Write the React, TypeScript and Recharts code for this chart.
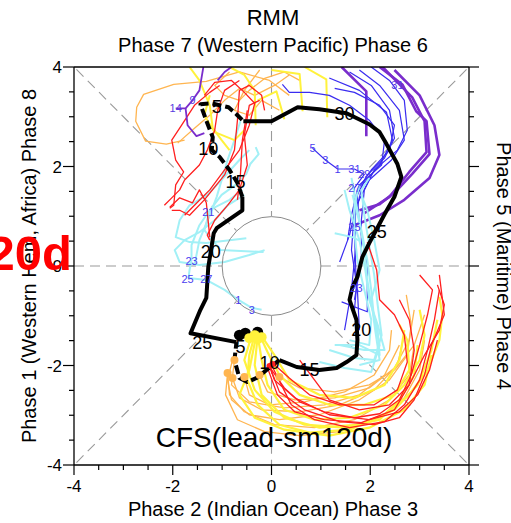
import React from "react";
import {
  ComposedChart,
  Line,
  Scatter,
  XAxis,
  YAxis,
  ReferenceLine,
  ReferenceDot,
} from "recharts";

type Pt = [number, number];

const FONT = "'Liberation Sans', Arial, Helvetica, sans-serif";

// axis ticks (major every 2, minor every 0.5)
const tickVals = [-4, -3.5, -3, -2.5, -2, -1.5, -1, -0.5, 0, 0.5, 1, 1.5, 2, 2.5, 3, 3.5, 4];

// observed RMM track (black)
const obsDashTop: Pt[] = [[-0.59, 1.39], [-0.69, 1.67], [-0.85, 1.93], [-1.05, 2.19], [-1.21, 2.33], [-1.19, 2.59], [-1.3, 2.87], [-1.44, 3.25], [-1.21, 3.27], [-0.87, 3.19], [-0.71, 3.05], [-0.57, 2.91]];
const obsMain: Pt[] = [[-0.57, 2.91], [0, 2.91], [0.53, 3.19], [0.97, 3.15], [1.52, 3.07], [1.98, 2.85], [2.19, 2.69], [2.33, 2.45], [2.55, 2.05], [2.63, 1.79], [2.49, 1.39], [2.29, 1.04], [1.98, 0.46], [1.84, 0.18], [1.74, -0.22], [1.64, -0.42], [1.58, -0.68], [1.72, -1.08], [1.74, -1.49], [1.72, -1.79], [1.52, -1.93], [1.32, -2.05], [0.97, -2.09], [0.51, -2.03], [0.16, -1.89]];
const obsDashLoop: Pt[] = [[0.16, -1.89], [-0.1, -2.09], [-0.3, -2.25], [-0.49, -2.33], [-0.65, -2.25], [-0.75, -1.89], [-0.71, -1.53]];
const obsLeft: Pt[] = [[-0.71, -1.53], [-1.64, -1.35], [-1.44, -0.88], [-1.32, -0.64], [-1.28, -0.02], [-1.17, 0.66], [-1.11, 0.76], [-0.59, 1.12], [-0.59, 1.39]];

const obsDayLabels = ["5", "10", "15", "20", "25", "5", "10", "15", "20", "25", "30"];
const obsDayPos: Pt[] = [[-1.11, 3.19], [-1.28, 2.35], [-0.73, 1.69], [-1.23, 0.28], [-1.4, -1.55], [-0.63, -1.63], [-0.04, -1.95], [0.77, -2.09], [1.82, -1.29], [2.13, 0.68], [1.48, 3.05]];

const startDots: Pt[] = [[-0.65, -1.39], [-0.53, -1.35], [-0.28, -1.33]];
const yellowDots: Pt[] = [[-0.34, -1.39], [-0.2, -1.43], [-0.45, -1.45], [-0.28, -1.47]];
const orangeDots: Pt[] = [[-0.75, -1.89], [-0.89, -2.15], [-0.79, -2.25], [-0.55, -2.23], [-0.24, -2.19], [0.16, -2.23]];
const redDots: Pt[] = [[-0.04, -2.01], [0.02, -1.97]];

// ensemble members
const yellowBottom: Pt[][] = [
  [[-0.34, -1.39], [-0.45, -1.79], [-0.49, -2.29], [-0.28, -2.79], [0.16, -3.19], [0.77, -3.35], [1.58, -3.29], [2.29, -2.99], [2.79, -2.59], [3.16, -2.09], [3.4, -1.49], [3.46, -0.98], [3.4, -0.62]],
  [[-0.28, -1.39], [-0.2, -1.89], [-0.08, -2.39], [0.26, -2.89], [0.87, -3.09], [1.58, -3.05], [2.29, -2.79], [2.69, -2.39], [3.0, -1.89], [3.1, -1.39], [3.0, -0.88]],
  [[-0.4, -1.39], [-0.55, -1.89], [-0.34, -2.49], [0.06, -2.93], [0.67, -3.19], [1.48, -3.25], [2.19, -3.09], [2.59, -2.69], [2.89, -2.19], [2.96, -1.59]],
  [[-0.24, -1.39], [-0.08, -1.73], [0.16, -2.19], [0.57, -2.59], [1.17, -2.79], [1.88, -2.79], [2.49, -2.59], [2.79, -2.09], [2.75, -1.49], [2.59, -1.18]],
  [[-0.32, -1.45], [-0.45, -2.09], [-0.65, -2.59], [-0.34, -3.05], [0.26, -3.29], [1.17, -3.41], [1.98, -3.25], [2.69, -2.89], [3.1, -2.39], [3.24, -1.79]],
  [[-0.2, -1.41], [0.06, -1.79], [0.36, -2.29], [0.97, -2.59], [1.68, -2.65], [2.29, -2.39], [2.59, -1.89], [2.69, -1.29]],
  [[-0.28, -1.41], [-0.34, -1.99], [-0.2, -2.59], [0.26, -3.05], [0.97, -3.25], [1.78, -3.19], [2.49, -2.89], [2.96, -2.39], [3.24, -1.69], [3.36, -1.08]],
];
const orangeBottom: Pt[][] = [
  [[-0.79, -1.89], [-0.89, -2.29], [-0.81, -2.69], [-0.45, -2.99], [0.16, -3.09], [0.97, -2.99], [1.78, -2.69], [2.39, -2.29], [2.75, -1.79], [2.83, -1.18], [2.73, -0.58]],
  [[-0.89, -2.15], [-0.85, -2.59], [-0.55, -2.93], [0.06, -3.19], [0.87, -3.25], [1.68, -3.09], [2.39, -2.69], [2.79, -2.19], [2.89, -1.59]],
  [[-0.79, -2.25], [-0.65, -2.65], [-0.2, -2.89], [0.57, -2.93], [1.38, -2.79], [2.08, -2.49], [2.55, -1.99], [2.69, -1.39]],
  [[-0.55, -2.23], [-0.45, -2.59], [-0.04, -2.79], [0.67, -2.73], [1.48, -2.53], [2.08, -2.19], [2.39, -1.69], [2.43, -1.29]],
  [[-0.24, -2.19], [-0.08, -2.53], [0.47, -2.69], [1.28, -2.65], [1.98, -2.45], [2.49, -2.05], [2.79, -1.49], [2.89, -0.88]],
  [[0.16, -2.23], [0.57, -2.45], [1.28, -2.53], [1.98, -2.39], [2.49, -2.09], [2.89, -1.59], [3.1, -0.98]],
  [[-0.89, -2.15], [-0.93, -2.59], [-0.69, -3.09], [-0.14, -3.33], [0.57, -3.41], [1.38, -3.33], [2.19, -3.05], [2.69, -2.65], [3.0, -2.09], [3.1, -1.49]],
  [[-0.75, -1.89], [-0.81, -2.39], [-0.45, -2.73], [0.26, -2.85], [1.07, -2.79], [1.78, -2.59], [2.29, -2.19], [2.59, -1.59]],
];
const redBottom: Pt[][] = [
  [[-0.04, -2.03], [0.26, -2.45], [0.57, -2.73], [1.07, -2.93], [1.68, -3.05], [2.19, -2.97], [2.59, -2.69], [2.83, -2.19], [3.0, -1.59], [3.16, -0.98], [3.26, -0.48], [3.0, -0.18]],
  [[0, -1.99], [0.2, -2.39], [0.4, -2.79], [0.87, -3.09], [1.58, -3.25], [2.29, -3.13], [2.69, -2.79], [3.0, -2.29], [3.16, -1.69], [3.3, -1.08], [3.4, -0.48]],
  [[-0.08, -2.05], [0.12, -2.59], [0.47, -2.93], [1.07, -3.09], [1.82, -3.15], [2.49, -2.89], [2.79, -2.39], [2.89, -1.69], [2.79, -1.08], [2.59, -0.68]],
  [[0.02, -1.95], [0.36, -2.25], [0.77, -2.59], [1.38, -2.79], [2.08, -2.79], [2.55, -2.49], [2.75, -1.93], [2.69, -1.39], [2.49, -0.98], [2.19, -0.68], [2.13, -0.08], [1.94, 0.48]],
  [[0.57, -1.89], [0.87, -2.29], [1.17, -2.69], [1.78, -2.89], [2.39, -2.79], [2.79, -2.39], [3.1, -1.79], [3.4, -1.29], [3.5, -0.78], [3.36, -0.38]],
  [[-0.04, -2.01], [0.06, -2.29], [0.47, -2.65], [1.17, -2.99], [1.98, -3.09], [2.59, -2.93], [2.96, -2.59], [3.2, -2.09], [3.36, -1.49]],
  [[-0.04, -2.01], [0.16, -2.53], [0.67, -2.89], [1.38, -3.13], [2.08, -3.19], [2.59, -3.05], [2.89, -2.69], [3.1, -2.19], [3.24, -1.59], [3.5, -0.98], [3.4, -0.18]],
];
const cyanRight: Pt[][] = [
  [[0.97, -1.93], [1.48, -2.05], [2.02, -2.13], [2.19, -1.59], [2.08, -1.08], [2.02, -0.48], [1.94, 0.12], [1.82, 0.72], [1.7, 1.33], [1.62, 1.77]],
  [[1.17, -1.69], [1.68, -1.85], [2.08, -1.89], [2.23, -1.39], [2.15, -0.78], [2.08, -0.18], [1.98, 0.42], [1.88, 1.02], [1.82, 1.53], [1.98, 1.77]],
  [[1.38, -1.59], [1.88, -1.69], [2.29, -1.69], [2.15, -1.18], [1.98, -0.68], [1.9, -0.08], [1.78, 0.52], [1.58, 1.12], [1.48, 1.53]],
  [[1.58, -1.49], [1.98, -1.59], [2.02, -1.08], [1.88, -0.48], [1.74, 0.12], [1.68, 0.68], [1.68, 1.22], [1.78, 1.63]],
  [[1.78, -1.99], [2.19, -1.89], [2.1, -1.29], [2.02, -0.68], [2.19, -0.08], [2.08, 0.52], [1.94, 1.12], [1.82, 1.43]],
  [[1.28, 0.66], [1.64, 0.58], [1.8, 0.5]],
  [[1.28, -1.59], [1.78, -1.59], [2.19, -1.79], [2.15, -1.29], [2.02, -0.78], [1.94, -0.28], [1.88, 0.32], [1.78, 0.88], [1.64, 1.43]],
];
const blueRight: Pt[][] = [
  [[1.42, -0.72], [1.94, -0.92], [1.94, 0.02], [1.78, 0.82], [1.74, 1.43], [1.94, 1.83], [2.29, 2.17], [2.49, 2.57], [2.39, 3.13], [2.02, 3.63], [1.58, 3.9]],
  [[1.48, -1.29], [1.62, -0.48], [1.7, 0.32], [1.7, 1.02], [1.84, 1.63], [2.19, 2.03], [2.45, 2.53], [2.33, 3.09], [1.78, 3.53], [1.17, 3.78]],
  [[1.38, 0.08], [1.58, 0.62], [1.72, 1.22], [1.98, 1.73], [2.43, 2.13], [2.69, 2.53], [2.59, 3.13], [2.19, 3.63], [1.78, 3.94]],
  [[1.78, -1.29], [1.74, -0.48], [1.62, 0.32], [1.68, 1.12], [1.78, 1.63], [2.23, 2.03], [2.29, 2.53], [1.98, 2.93], [1.58, 3.23], [1.17, 3.43], [0.77, 3.49], [0.36, 3.49], [0.22, 3.65]],
  [[1.68, -0.68], [1.82, 0.12], [1.82, 0.92], [1.88, 1.53], [2.08, 1.93], [2.55, 2.33], [2.75, 2.73], [2.69, 3.33], [2.39, 3.73], [2.02, 4.0]],
  [[1.54, 0.52], [1.62, 1.02], [1.74, 1.53], [2.02, 1.93], [2.39, 2.33], [2.49, 2.83], [2.19, 3.23], [1.68, 3.49], [1.28, 3.57]],
];
const blueMean: Pt[] = [[1.68, -0.88], [1.72, -0.44], [1.7, 0.12], [1.68, 0.78], [1.68, 1.22], [1.68, 1.57], [1.88, 1.84], [1.68, 1.95], [1.34, 1.95], [1.09, 2.13], [0.83, 2.37]];
const blueMeanLabels = ["23", "25", "27", "29", "31", "1", "3", "5"];
const blueMeanLabelPos: Pt[] = [[1.72, -0.44], [1.68, 0.78], [1.68, 1.57], [1.88, 1.84], [1.68, 1.95], [1.34, 1.95], [1.09, 2.13], [0.83, 2.37]];
const purpleRight: Pt[][] = [
  [[2.19, 4.0], [2.65, 3.65], [2.93, 3.11], [3.14, 2.91], [3.2, 2.25], [2.85, 1.85], [2.53, 1.51], [2.19, 1.24], [1.78, 1.12]],
  [[2.25, 4.0], [2.85, 3.39], [3.1, 2.91], [3.14, 2.29], [2.79, 1.89], [2.39, 1.39], [1.88, 1.06]],
  [[2.49, 3.94], [3.0, 3.43], [3.3, 2.83], [3.4, 2.23], [3.2, 1.77], [2.69, 1.33], [2.19, 1.02], [1.68, 0.82]],
  [[1.42, 4.0], [1.92, 3.51], [1.92, 2.61]],
];
const orangeTop: Pt[][] = [
  [[0.36, 3.43], [-0.04, 3.73], [-0.65, 3.9], [-1.32, 3.71], [-1.98, 3.65], [-2.59, 3.45], [-2.73, 3.19], [-2.75, 2.91], [-2.55, 2.51], [-2.13, 2.45], [-1.76, 2.53]],
  [[0.57, 3.73], [0.26, 3.9], [-0.14, 3.77], [-0.45, 3.53], [-0.65, 3.33], [-0.95, 3.43], [-1.15, 3.63], [-0.85, 3.9]],
  [[0.36, 3.84], [0.06, 3.63], [-0.34, 3.43], [-0.65, 3.57], [-0.95, 3.33], [-1.25, 3.03], [-1.56, 2.77], [-1.9, 2.47]],
  [[-0.24, 3.94], [-0.55, 3.53], [-0.75, 3.13], [-0.45, 3.03], [-0.2, 3.33], [0.16, 3.13]],
];
const yellowTop: Pt[][] = [
  [[-1.66, 4.0], [-1.46, 3.73], [-1.25, 3.23], [-1.19, 2.77], [-1.01, 2.53], [-0.85, 2.33]],
  [[-0.85, 4.0], [-0.55, 3.84], [-0.34, 3.53], [-0.32, 2.83]],
  [[0, 3.94], [0.57, 3.86], [0.63, 3.11]],
  [[0.67, 4.0], [1.11, 3.75], [1.13, 2.99]],
  [[-0.28, 3.33], [0.1, 3.51], [0.26, 2.95]],
  [[-1.25, 3.43], [-1.36, 3.03], [-1.15, 2.69], [-0.75, 2.53], [-0.55, 2.73]],
];
const redTop: Pt[][] = [
  [[-1.36, 3.43], [-1.15, 3.69], [-0.81, 3.73], [-0.55, 3.49], [-0.34, 3.27], [-0.45, 2.83], [-0.65, 2.33], [-0.95, 1.93], [-1.25, 1.53], [-1.56, 1.22], [-1.76, 1.02]],
  [[-0.14, 3.13], [-0.2, 3.43], [-0.45, 3.63], [-0.65, 3.53], [-0.69, 2.93], [-0.75, 2.33], [-0.95, 1.83], [-1.36, 1.33], [-1.66, 1.02], [-1.86, 1.12], [-2.02, 1.12]],
  [[-1.05, 3.63], [-1.25, 3.49], [-1.56, 3.23], [-1.82, 2.83], [-2.02, 2.53], [-1.94, 2.13], [-1.78, 1.89], [-1.94, 1.63], [-1.98, 1.22], [-2.06, 1.16]],
  [[-0.24, 3.33], [-0.45, 3.23], [-0.55, 2.63], [-0.49, 2.03], [-0.65, 1.53], [-0.89, 1.22], [-1.15, 0.92], [-1.3, 0.62], [-1.25, 0.52]],
  [[-0.65, 3.73], [-0.95, 3.53], [-1.09, 3.13], [-1.15, 2.73], [-1.3, 2.33], [-1.46, 2.03], [-1.76, 1.73], [-1.86, 1.53], [-2.02, 1.37], [-2.17, 1.22]],
  [[-0.49, 3.13], [-0.59, 2.53], [-0.63, 1.83], [-0.69, 1.33]],
  [[-2.06, 1.18], [-1.86, 1.37], [-1.6, 1.27], [-1.46, 1.53], [-1.32, 1.27], [-1.25, 0.58]],
];
const purpleTop: Pt[][] = [
  [[-1.94, 3.17], [-1.74, 3.17], [-1.6, 3.33], [-1.46, 3.53], [-1.38, 4.0]],
  [[-1.74, 3.17], [-1.7, 2.83], [-1.52, 2.61], [-1.36, 2.67]],
  [[-1.09, 3.73], [-0.95, 3.9], [-0.81, 4.0]],
];
const purpleLabels = ["14", "9", "31"];
const purpleLabelPos: Pt[] = [[-1.94, 3.17], [-1.6, 3.33], [2.55, 3.63]];
const cyanLeft: Pt[][] = [
  [[-0.59, 1.53], [-0.85, 1.33], [-1.15, 1.18], [-1.28, 1.08], [-1.46, 0.82], [-1.62, 0.42], [-1.62, 0.12], [-1.66, -0.08], [-1.68, -0.24], [-1.32, -0.28], [-0.95, -0.48], [-0.67, -0.68], [-0.4, -0.84], [-0.2, -0.88]],
  [[-0.45, 2.33], [-0.65, 2.13], [-1.01, 1.73], [-1.3, 1.43], [-1.66, 1.22], [-1.86, 0.92], [-1.94, 0.58], [-1.66, 0.48], [-1.32, 0.46], [-0.51, 0.56]],
  [[-0.32, 2.39], [-0.26, 2.25], [-0.43, 2.05], [-0.51, 1.85], [-0.73, 1.63], [-1.01, 1.43], [-1.25, 1.12], [-1.36, 0.72], [-1.03, 0.32], [-0.16, 0.28]],
  [[-0.63, 2.91], [-0.75, 2.53], [-0.89, 2.13], [-1.11, 1.39], [-1.25, 1.02], [-1.46, 0.52], [-1.56, 0.02]],
  [[-0.55, 1.43], [-0.89, 1.22], [-1.15, 0.92], [-1.46, 0.68], [-1.76, 0.52], [-1.96, 0.32], [-1.86, 0.08], [-1.46, 0.02], [-0.95, 0.08], [-0.45, 0.22], [-0.14, 0.32]],
];
const cyanLabels = ["21", "23", "25", "27", "1", "3"];
const cyanLabelPos: Pt[] = [[-1.28, 1.08], [-1.62, 0.1], [-1.7, -0.26], [-1.32, -0.26], [-0.67, -0.68], [-0.4, -0.88]];

const toXY = (pts: Pt[]) => pts.map(([x, y]) => ({ x, y }));
const toLabeled = (pts: Pt[], txt: string[]) => pts.map(([x, y], i) => ({ x, y, t: txt[i] }));

const YELLOW = "#fff23c";
const ORANGE = "#ffb550";
const RED = "#ff1f1f";
const CYAN = "#a2f0f6";
const BLUE = "#3a2cf0";
const PURPLE = "#7a2dcc";
const LABEL_BLUE = "#4a3cf0";

const W = 511;
const H = 523;
const PLOT_W = 395;

function BottomTick(p: any) {
  const v = p.payload.value;
  const major = v % 2 === 0;
  return (
    <g>
      <line x1={p.x} x2={p.x} y1={p.y} y2={p.y + (major ? 10 : 5)} stroke="#000" strokeWidth={1.2} />
      {major && (
        <text x={p.x} y={p.y + 27} textAnchor="middle" fontSize={17} fill="#000">
          {v}
        </text>
      )}
    </g>
  );
}

function TopTick(p: any) {
  const major = p.payload.value % 2 === 0;
  return <line x1={p.x} x2={p.x} y1={p.y} y2={p.y - (major ? 10 : 5)} stroke="#000" strokeWidth={1.2} />;
}

function LeftTick(p: any) {
  const v = p.payload.value;
  const major = v % 2 === 0;
  return (
    <g>
      <line x1={p.x} x2={p.x - (major ? 11 : 5)} y1={p.y} y2={p.y} stroke="#000" strokeWidth={1.2} />
      {major && (
        <text x={p.x - 12} y={p.y + 6} textAnchor="end" fontSize={17} fill="#000">
          {v}
        </text>
      )}
    </g>
  );
}

function RightTick(p: any) {
  const major = p.payload.value % 2 === 0;
  return <line x1={p.x} x2={p.x + (major ? 10 : 5)} y1={p.y} y2={p.y} stroke="#000" strokeWidth={1.2} />;
}

function track(pts: Pt[], key: string, color: string, width: number, dash?: string) {
  return (
    <Line
      key={key}
      data={toXY(pts)}
      dataKey="y"
      type="linear"
      stroke={color}
      strokeWidth={width}
      strokeDasharray={dash}
      strokeLinejoin="round"
      dot={false}
      activeDot={false}
      legendType="none"
      isAnimationActive={false}
    />
  );
}

const textShape = (size: number, color: string) => (p: any) => (
  <text x={p.cx} y={p.cy} textAnchor="middle" dominantBaseline="central" fontSize={size} fill={color} fontFamily={FONT}>
    {p.payload.t}
  </text>
);

const dotShape = (r: number, color: string) => (p: any) => <circle cx={p.cx} cy={p.cy} r={r} fill={color} />;

const grey = { stroke: "#9a9a9a", strokeDasharray: "10 6", strokeWidth: 1.1 };

export default function App() {
  return (
    <div style={{ position: "absolute", left: 0, top: 0, width: W, height: H, background: "#fff", fontFamily: FONT }}>
      <ComposedChart width={W} height={H} margin={{ top: 57, right: 32, bottom: 28, left: 34 }} style={{ position: "absolute", left: 0, top: 0 }}>
        <XAxis dataKey="x" type="number" domain={[-4, 4]} ticks={tickVals} interval={0} allowDataOverflow height={30} tickSize={0} tickMargin={0} tick={BottomTick} axisLine={{ stroke: "#000", strokeWidth: 1.3 }} />
        <XAxis xAxisId="top" orientation="top" type="number" domain={[-4, 4]} ticks={tickVals} interval={0} allowDataOverflow height={10} tickSize={0} tickMargin={0} tick={TopTick} axisLine={{ stroke: "#000", strokeWidth: 1.3 }} />
        <YAxis dataKey="y" type="number" domain={[-4, 4]} ticks={tickVals} interval={0} allowDataOverflow width={40} tickSize={0} tickMargin={0} tick={LeftTick} axisLine={{ stroke: "#000", strokeWidth: 1.3 }} />
        <YAxis yAxisId="right" orientation="right" type="number" domain={[-4, 4]} ticks={tickVals} interval={0} allowDataOverflow width={10} tickSize={0} tickMargin={0} tick={RightTick} axisLine={{ stroke: "#000", strokeWidth: 1.3 }} />

        <ReferenceLine segment={[{ x: -4, y: 0 }, { x: -1, y: 0 }]} {...grey} />
        <ReferenceLine segment={[{ x: 1, y: 0 }, { x: 4, y: 0 }]} {...grey} />
        <ReferenceLine segment={[{ x: 0, y: 4 }, { x: 0, y: 1 }]} {...grey} />
        <ReferenceLine segment={[{ x: 0, y: -1 }, { x: 0, y: -4 }]} {...grey} />
        <ReferenceLine segment={[{ x: -3.95, y: 3.95 }, { x: -0.71, y: 0.71 }]} {...grey} />
        <ReferenceLine segment={[{ x: 3.95, y: 3.95 }, { x: 0.71, y: 0.71 }]} {...grey} />
        <ReferenceLine segment={[{ x: -3.95, y: -3.95 }, { x: -0.71, y: -0.71 }]} {...grey} />
        <ReferenceLine segment={[{ x: 3.95, y: -3.95 }, { x: 0.71, y: -0.71 }]} {...grey} />
        <ReferenceDot x={0} y={0} r={PLOT_W / 8} fill="none" stroke="#8a8a8a" strokeWidth={1} />

        {cyanLeft.map((p, i) => track(p, "cl" + i, CYAN, 2))}
        {orangeTop.map((p, i) => track(p, "ot" + i, ORANGE, 1.3))}
        {yellowTop.map((p, i) => track(p, "yt" + i, YELLOW, 2))}
        {redTop.map((p, i) => track(p, "rt" + i, RED, 1.3))}
        {purpleTop.map((p, i) => track(p, "pt" + i, PURPLE, 1.8))}
        {purpleRight.map((p, i) => track(p, "pr" + i, PURPLE, 2.6))}
        {blueRight.map((p, i) => track(p, "br" + i, BLUE, 1.2))}
        {track(blueMean, "bm", BLUE, 1.2)}
        {cyanRight.map((p, i) => track(p, "cr" + i, CYAN, 2))}
        {orangeBottom.map((p, i) => track(p, "ob" + i, ORANGE, 1.3))}
        {yellowBottom.map((p, i) => track(p, "yb" + i, YELLOW, 2.2))}
        {redBottom.map((p, i) => track(p, "rb" + i, RED, 1.3))}

        {track(obsDashTop, "o1", "#000", 4, "9 4")}
        {track(obsMain, "o2", "#000", 4)}
        {track(obsDashLoop, "o3", "#000", 4, "9 4")}
        {track(obsLeft, "o4", "#000", 4)}

        <Scatter data={toXY(orangeDots)} shape={dotShape(4, ORANGE)} isAnimationActive={false} legendType="none" />
        <Scatter data={toXY(redDots)} shape={dotShape(3, RED)} isAnimationActive={false} legendType="none" />
        <Scatter data={toXY(startDots)} shape={dotShape(5.5, "#000")} isAnimationActive={false} legendType="none" />
        <Scatter data={toXY(yellowDots)} shape={dotShape(5, YELLOW)} isAnimationActive={false} legendType="none" />
        <Scatter data={toLabeled(blueMeanLabelPos, blueMeanLabels)} shape={textShape(11, LABEL_BLUE)} isAnimationActive={false} legendType="none" />
        <Scatter data={toLabeled(cyanLabelPos, cyanLabels)} shape={textShape(11, LABEL_BLUE)} isAnimationActive={false} legendType="none" />
        <Scatter data={toLabeled(purpleLabelPos, purpleLabels)} shape={textShape(11, "#5a3ce0")} isAnimationActive={false} legendType="none" />
        <Scatter data={toLabeled(obsDayPos, obsDayLabels)} shape={textShape(18, "#000")} isAnimationActive={false} legendType="none" />
      </ComposedChart>

      <svg width={W} height={H} style={{ position: "absolute", left: 0, top: 0, pointerEvents: "none" }} fontFamily={FONT}>
        <text x={273} y={25} textAnchor="middle" fontSize={22}>RMM</text>
        <text x={273} y={52} textAnchor="middle" fontSize={20}>Phase 7 (Western Pacific) Phase 6</text>
        <text x={273} y={516} textAnchor="middle" fontSize={20}>Phase 2 (Indian Ocean) Phase 3</text>
        <text x={36} y={266} textAnchor="middle" fontSize={20} transform="rotate(-90 36 266)">Phase 1 (Western Hem, Africa) Phase 8</text>
        <text x={497} y={266} textAnchor="middle" fontSize={20} transform="rotate(90 497 266)">Phase 5 (Maritime) Phase 4</text>
        <text x={274} y={447} textAnchor="middle" fontSize={28}>CFS(lead-sm120d)</text>
        <text x={72} y={270} textAnchor="end" fontSize={49} fontWeight="bold" fill="#ff0000">20d</text>
      </svg>
    </div>
  );
}
